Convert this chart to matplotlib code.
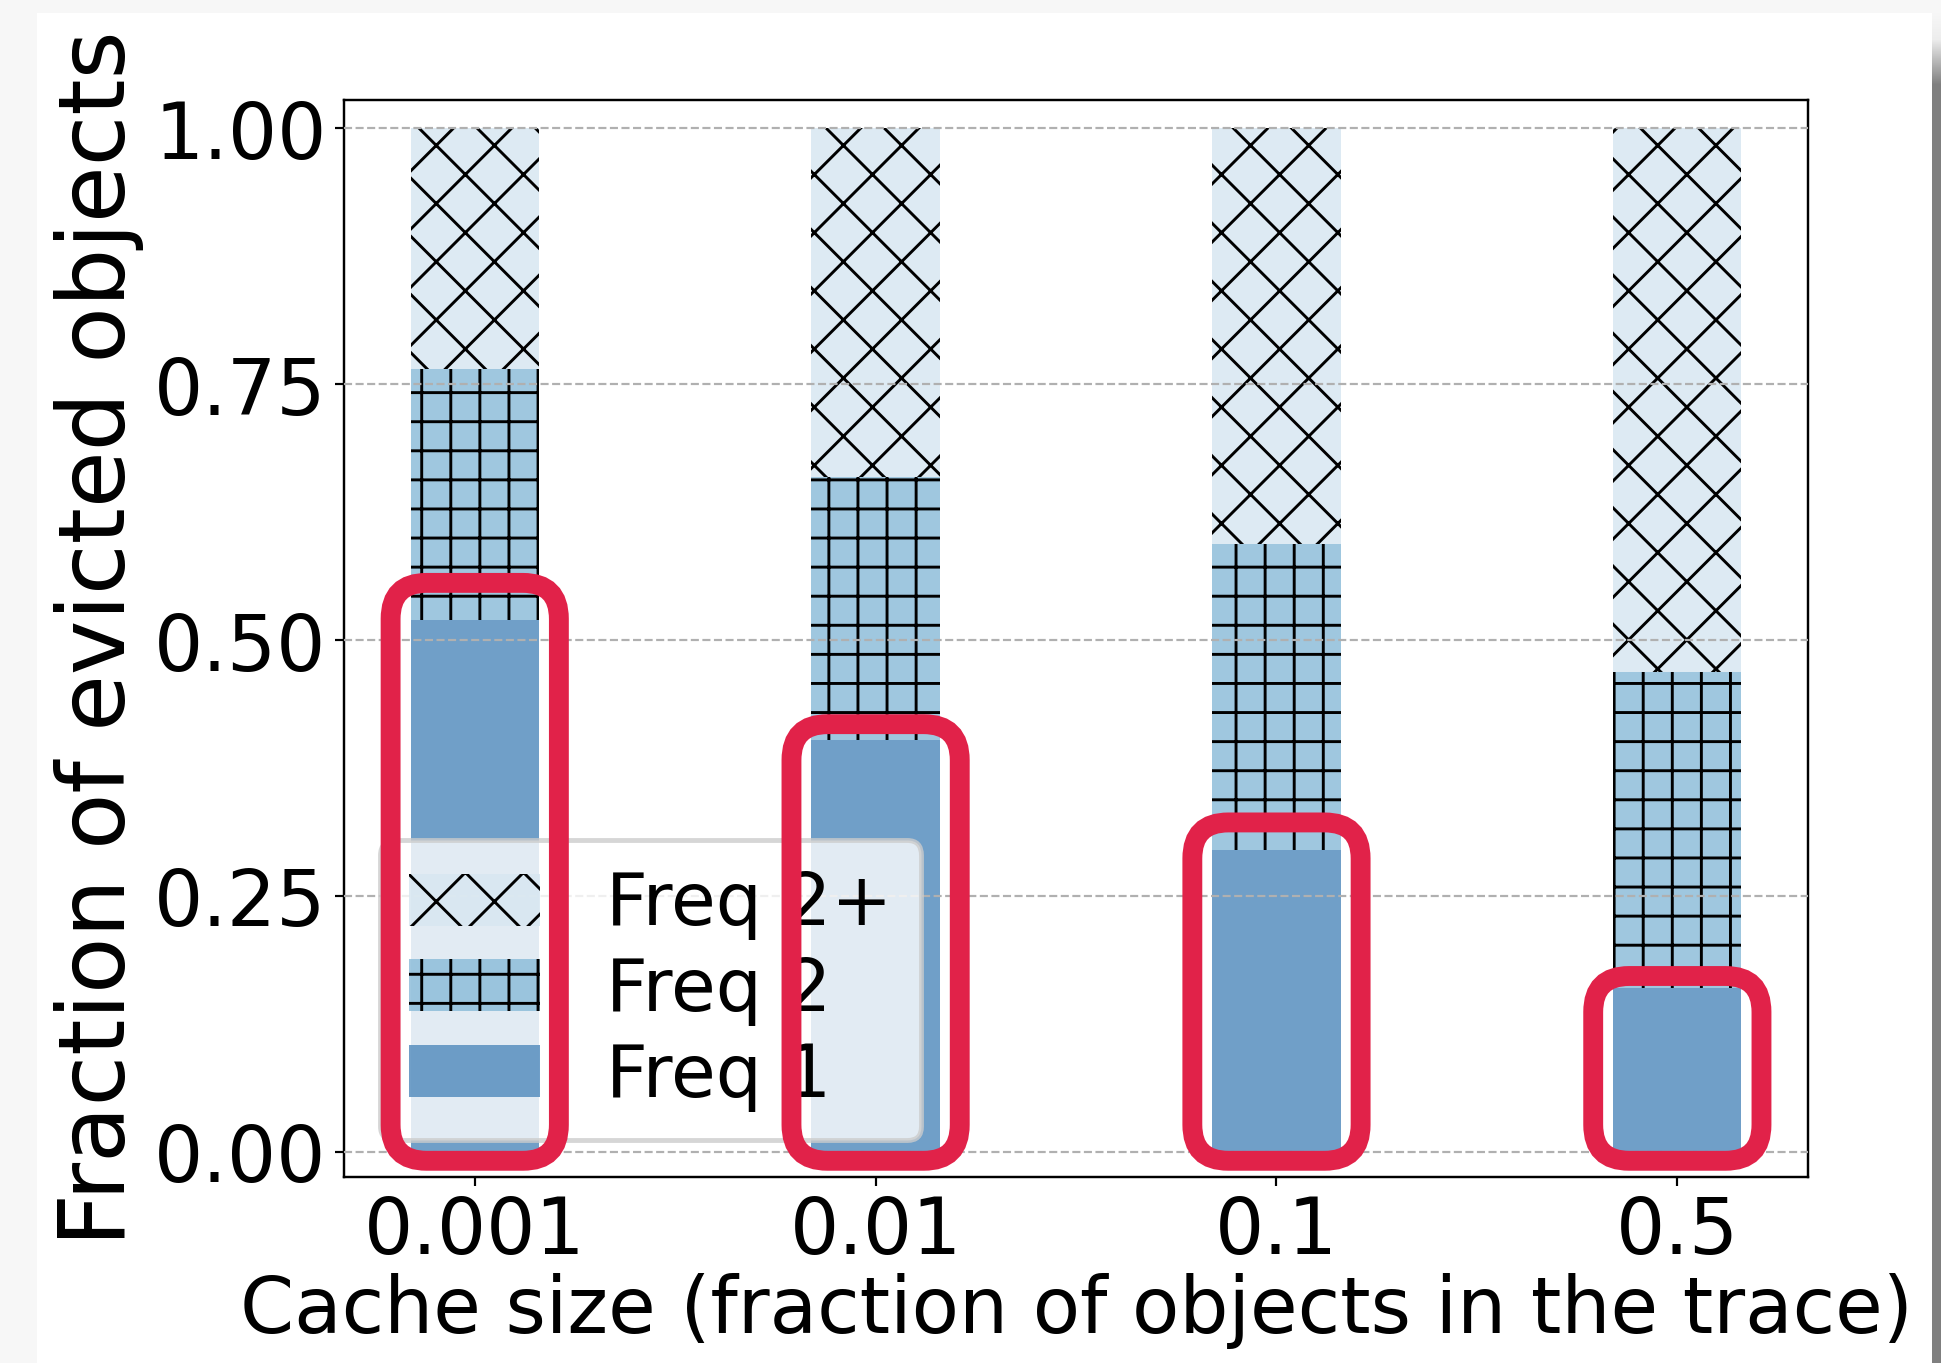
import numpy as np
import matplotlib
matplotlib.use('Agg')
import matplotlib.pyplot as plt
from matplotlib.patches import Rectangle, FancyBboxPatch

# cache sizes on the x axis
cache_sizes = ['0.001', '0.01', '0.1', '0.5']
# fraction of evicted objects by access frequency
freq1 = [0.520, 0.403, 0.295, 0.160]
freq2 = [0.245, 0.256, 0.299, 0.309]
freq2plus = [0.235, 0.341, 0.406, 0.531]
# top of the highlight box around each Freq 1 bar
box_tops = [0.556, 0.418, 0.322, 0.172]

DPI = 349
W_PX, H_PX = 1941, 1363

plt.rcParams['hatch.linewidth'] = 0.6

fig = plt.figure(figsize=(W_PX / DPI + 0.001, H_PX / DPI + 0.001), dpi=DPI)
fig.patch.set_facecolor('#f7f7f7')
fig.patches.append(Rectangle((37 / W_PX, 0), (1932 - 37) / W_PX, 1 - 13 / H_PX,
                             transform=fig.transFigure, facecolor='white',
                             edgecolor='none', zorder=-1))

# scroll strip at the right edge
strip = fig.add_axes([1932 / W_PX, 0, 9 / W_PX, 1])
rows = np.arange(H_PX)
shade = np.interp(rows, [0, 13, 40, 85, H_PX], [0.97, 0.97, 0.93, 0.5, 0.5])
strip.imshow(np.repeat(shade[:, None, None], 3, axis=2), aspect='auto',
             interpolation='nearest')
strip.set_axis_off()

ax = fig.add_axes([344 / W_PX, 1 - 1176.7 / H_PX,
                   (1807.7 - 344) / W_PX, (1176.7 - 100) / H_PX])

x = np.arange(len(cache_sizes))
width = 0.32
c1 = (0.341, 0.557, 0.749, 0.85)
c2 = (0.557, 0.745, 0.855, 0.85)
c3 = (0.847, 0.906, 0.945, 0.85)

b1 = ax.bar(x, freq1, width, color=c1, edgecolor='black', linewidth=0,
            label='Freq 1')
bottom2 = np.array(freq1)
b2 = ax.bar(x, freq2, width, bottom=bottom2, color=c2, edgecolor='black',
            linewidth=0, hatch='++', label='Freq 2')
bottom3 = bottom2 + np.array(freq2)
b3 = ax.bar(x, freq2plus, width, bottom=bottom3, color=c3, edgecolor='black',
            linewidth=0, hatch='xx', label='Freq 2+')

ax.set_ylim(-0.024, 1.028)
ax.set_xticks(x)
ax.set_xticklabels(cache_sizes)
ax.set_yticks([0, 0.25, 0.5, 0.75, 1.0])
ax.set_yticklabels(['0.00', '0.25', '0.50', '0.75', '1.00'])
ax.tick_params(labelsize=16, length=1.9, width=0.45, pad=1.7)
for s in ax.spines.values():
    s.set_linewidth(0.5)

ax.yaxis.grid(True, linestyle='--', color='#b0b0b0', linewidth=0.45, zorder=3)
ax.set_axisbelow(False)

ax.set_xlabel('Cache size (fraction of objects in the trace)', fontsize=16,
              labelpad=0.5)
ax.set_ylabel('Fraction of evicted objects', fontsize=19, labelpad=2)

ax.legend(handles=[b3, b2, b1], loc='lower left', fontsize=15,
          handlelength=1.8, handleheight=0.72, handletextpad=0.9,
          labelspacing=0.2, borderpad=0.4)

# red highlight boxes around Freq 1
fig.canvas.draw()
p0 = ax.transData.transform((0, 0))
p1 = ax.transData.transform((1, 1))
sx, sy = p1[0] - p0[0], p1[1] - p0[1]
pad_x = 20 / sx
box_bottom = -0.0085
radius = 36 / sx
for xi, top in zip(x, box_tops):
    box = FancyBboxPatch((xi - width / 2 - pad_x, box_bottom),
                         width + 2 * pad_x, top - box_bottom,
                         boxstyle='round,pad=0,rounding_size=%f' % radius,
                         mutation_aspect=sx / sy, facecolor='none',
                         edgecolor='#e12249', linewidth=4.1, zorder=6,
                         clip_on=False)
    ax.add_patch(box)

fig.savefig('out.png', dpi=DPI, facecolor=fig.get_facecolor())
